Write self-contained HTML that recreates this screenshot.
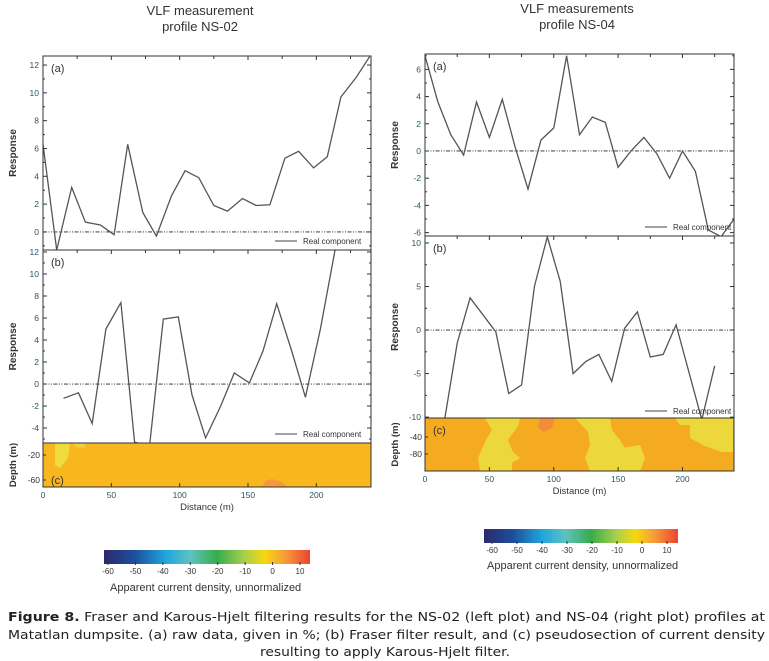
<!DOCTYPE html>
<html><head><meta charset="utf-8">
<style>
html,body{margin:0;padding:0;background:#fff;}
svg{display:block;font-family:"Liberation Sans",Arial,sans-serif;}
</style></head>
<body>
<svg id="fig" width="769" height="661" viewBox="0 0 769 661" xmlns="http://www.w3.org/2000/svg">
<defs>
<linearGradient id="cb" x1="0" x2="1" y1="0" y2="0">
<stop offset="0" stop-color="#2c2a6c"/><stop offset="0.15" stop-color="#1e4f9c"/><stop offset="0.3" stop-color="#1fa6dc"/><stop offset="0.42" stop-color="#5ec2c0"/><stop offset="0.55" stop-color="#38ac4c"/><stop offset="0.68" stop-color="#a6cf4e"/><stop offset="0.78" stop-color="#f7d80e"/><stop offset="0.88" stop-color="#f69a3c"/><stop offset="1" stop-color="#ec4430"/>
</linearGradient>
</defs>
<text x="200" y="15" font-size="13" text-anchor="middle" fill="#333">VLF measurement</text>
<text x="200" y="31" font-size="13" text-anchor="middle" fill="#333">profile NS-02</text>
<text x="577" y="13" font-size="13" text-anchor="middle" fill="#333">VLF measurements</text>
<text x="577" y="29" font-size="13" text-anchor="middle" fill="#333">profile NS-04</text>
<g id="plots"></g>
<!-- colorbars -->
<rect x="104" y="550" width="206" height="14" fill="url(#cb)"/>
<rect x="484" y="529" width="194" height="14" fill="url(#cb)"/>
<g id="cbticks"></g>
<text x="110" y="591" font-size="11" fill="#333">Apparent current density, unnormalized</text>
<text x="487" y="569" font-size="11" fill="#333">Apparent current density, unnormalized</text>
<g font-family="'DejaVu Sans',sans-serif" font-size="12" fill="#222">
<text x="8" y="621" textLength="757" lengthAdjust="spacingAndGlyphs"><tspan font-weight="bold">Figure 8.</tspan> Fraser and Karous-Hjelt filtering results for the NS-02 (left plot) and NS-04 (right plot) profiles at</text>
<text x="8" y="639" textLength="757" lengthAdjust="spacingAndGlyphs">Matatlan dumpsite. (a)  raw data, given in %; (b) Fraser filter result, and (c) pseudosection of current density</text>
<text x="385" y="656" text-anchor="middle" textLength="250" lengthAdjust="spacingAndGlyphs">resulting to apply Karous-Hjelt filter.</text>
</g>
</svg>
<script>
// ---- data ----
const leftADist = [0,10,21,31,42,52,62,73,83,94,104,114,125,135,146,156,166,177,187,198,208,218,229,239];
const leftAVals = [6.3,-1.3,3.2,0.7,0.5,-0.2,6.3,1.4,-0.3,2.6,4.4,3.9,1.9,1.5,2.4,1.9,1.95,5.3,5.8,4.6,5.4,9.7,11.1,12.6];
const leftBDist = [15,26,36,46,57,67,78,88,99,109,119,130,140,151,161,171,182,192,203,214];
const leftBVals = [-1.3,-0.8,-3.6,5.0,7.4,-5.3,-5.6,5.9,6.1,-1.0,-4.9,-2.0,1.0,0.1,3.0,7.3,3.0,-1.2,5.0,12.4];
const rightADist = [0,10,20,30,40,50,60,70,80,90,100,110,120,130,140,150,160,170,180,190,200,210,220,230,240];
const rightAVals = [7.0,3.6,1.2,-0.3,3.6,1.0,3.8,0.3,-2.8,0.8,1.7,7.0,1.2,2.5,2.1,-1.2,0,1.0,-0.2,-2.0,0.0,-1.5,-5.8,-6.3,-5.0];
const rightBDist = [15,25,35,55,65,75,85,95,105,115,125,135,145,155,165,175,185,195,215,225];
const rightBVals = [-10.5,-1.5,3.7,-0.2,-7.3,-6.3,5.0,10.7,5.6,-5.0,-3.6,-2.8,-5.9,0.2,2.1,-3.1,-2.8,0.6,-10.3,-4.1];
const leftATicks = [0,2,4,6,8,10,12];
const leftBTicks = [-4,-2,0,2,4,6,8,10,12];
const rightATicks = [-6,-4,-2,0,2,4,6];
const rightBTicks = [-10,-5,0,5,10];
const distTicks = [0,50,100,150,200];
const cbLabels = [-60,-50,-40,-30,-20,-10,0,10];

const NS='http://www.w3.org/2000/svg';
const G=document.getElementById('plots');
function mk(tag,attrs,parent){const e=document.createElementNS(NS,tag);for(const k in attrs)e.setAttribute(k,attrs[k]);(parent||G).appendChild(e);return e;}
function txt(s,attrs,parent){const e=mk('text',attrs,parent);e.textContent=s;return e;}
let clipId=0;
function panel(p){
  const xs=d=>p.x0+(d-0)/(240)*(p.x1-p.x0);
  const ys=v=>p.y1-(v-p.vmin)/(p.vmax-p.vmin)*(p.y1-p.y0);
  const g=mk('g',{});
  
  
  const cid='clip'+(clipId++);
  const cp=mk('clipPath',{id:cid},g);mk('rect',{x:p.x0,y:p.y0,width:p.x1-p.x0,height:p.y1-p.y0},cp);
  // zero line
  const z=mk('line',{x1:p.x0,x2:p.x1,y1:ys(0),y2:ys(0),stroke:'#222','stroke-width':0.9,'stroke-dasharray':'4,1.5,1,1.5,1,1.5'},g);
  
  
  // series
  const pts=p.dist.map((d,i)=>xs(d).toFixed(1)+','+ys(p.vals[i]).toFixed(1)).join(' ');
  const pl=mk('polyline',{points:pts,fill:'none',stroke:'#555','stroke-width':1.3,'clip-path':'url(#'+cid+')'},g);
  
  
  // frame
  mk('rect',{x:p.x0,y:p.y0,width:p.x1-p.x0,height:p.y1-p.y0,fill:'none',stroke:'#333','stroke-width':1},g);
  // y ticks
  p.ticks.forEach(t=>{
    const y=ys(t);
    mk('line',{x1:p.x0,x2:p.x0+4,y1:y,y2:y,stroke:'#333'},g);
    mk('line',{x1:p.x1,x2:p.x1-4,y1:y,y2:y,stroke:'#333'},g);
    const l=txt(String(t),{x:p.x0-4,y:y+3,'font-size':8.5,'text-anchor':'end',fill:'#2a5563'},g);
    
    
  });
  const step=p.ticks[1]-p.ticks[0];
  for(let v=p.ticks[0]-step/2; v<p.vmax; v+=step){ if(v>p.vmin){const y=ys(v);
    mk('line',{x1:p.x0,x2:p.x0+2,y1:y,y2:y,stroke:'#333'},g);mk('line',{x1:p.x1,x2:p.x1-2,y1:y,y2:y,stroke:'#333'},g);} }
  // x ticks top
  for(let d=0; d<=240; d+=25){const x=xs(d);
    mk('line',{x1:x,x2:x,y1:p.y0,y2:p.y0+(d%50==0?4:3),stroke:'#333'},g);}
  // label
  txt(p.label,{x:p.x0+8,y:p.y0+16,'font-size':11,fill:'#333'},g);
  // y title
  const yt=txt('Response',{x:0,y:0,'font-size':10,'font-weight':'bold','text-anchor':'middle',fill:'#333',transform:'translate('+p.ytx+','+((p.y0+p.y1)/2)+') rotate(-90)'},g);
  
  
  // legend
  const lg=mk('g',{},g);
  
  
  mk('line',{x1:p.lgx,x2:p.lgx+22,y1:p.lgy,y2:p.lgy,stroke:'#444','stroke-width':1},lg);
  txt('Real component',{x:p.lgx+28,y:p.lgy+3,'font-size':8,fill:'#333'},lg);
  return {xs,ys};
}
const LX0=43,LX1=371,RX0=425,RX1=734;
panel({name:'left-panel-a',x0:LX0,x1:LX1,y0:56,y1:250,vmin:-1.3,vmax:12.65,dist:leftADist,vals:leftAVals,ticks:leftATicks,label:'(a)',ytx:16,lgx:275,lgy:241});
panel({name:'left-panel-b',x0:LX0,x1:LX1,y0:250,y1:443,vmin:-5.36,vmax:12.18,dist:leftBDist,vals:leftBVals,ticks:leftBTicks,label:'(b)',ytx:16,lgx:275,lgy:434});
panel({name:'right-panel-a',x0:RX0,x1:RX1,y0:54,y1:236,vmin:-6.25,vmax:7.13,dist:rightADist,vals:rightAVals,ticks:rightATicks,label:'(a)',ytx:398,lgx:645,lgy:227});
panel({name:'right-panel-b',x0:RX0,x1:RX1,y0:236,y1:418,vmin:-10.1,vmax:10.8,dist:rightBDist,vals:rightBVals,ticks:rightBTicks,label:'(b)',ytx:398,lgx:645,lgy:411});

// heatmaps (c)
function heat(name,x0,x1,y0,y1,base,shapes,depthLabels,depthYs,tx,ly){
  const g=mk('g',{});
  
  
  mk('rect',{x:x0,y:y0,width:x1-x0,height:y1-y0,fill:base},g);
  shapes.forEach(s=>mk('polygon',{points:s[0],fill:s[1]},g));
  mk('rect',{x:x0,y:y0,width:x1-x0,height:y1-y0,fill:'none',stroke:'#333','stroke-width':1},g);
  txt('(c)',{x:x0+8,y:ly,'font-size':11,fill:'#333'},g);
  depthLabels.forEach((d,i)=>{mk('line',{x1:x0,x2:x0+3,y1:depthYs[i],y2:depthYs[i],stroke:'#333'},g);
    txt(String(d),{x:x0-3,y:depthYs[i]+3,'font-size':8.5,'text-anchor':'end',fill:'#333'},g);});
  const t=txt('Depth (m)',{x:0,y:0,'font-size':9.5,'font-weight':'bold','text-anchor':'middle',fill:'#333',transform:'translate('+tx+','+((y0+y1)/2)+') rotate(-90)'},g);
  
  
  // x axis
  distTicks.forEach(d=>{const x=x0+d/240*(x1-x0);
    mk('line',{x1:x,x2:x,y1:y1,y2:y1-4,stroke:'#333'},g);
    const l=txt(String(d),{x:x,y:y1+11,'font-size':8.5,'text-anchor':'middle',fill:'#2a5563'},g);
    
    
  });
  const xt=txt('Distance (m)',{x:(x0+x1)/2,y:y1+23,'font-size':9.5,'text-anchor':'middle',fill:'#333'},g);
  
  
}
heat('left-pseudosection',LX0,LX1,443,487,'#f8b71e',[
 ['55,443 70,443 68,458 60,468 55,465','#eedc3c'],
 ['72,443 86,443 84,448 76,447','#f0d040'],
 ['262,487 265,481 272,479 280,481 285,484 286,487','#f59a3c']
],[-20,-60],[455,480],16,484);
heat('right-pseudosection',RX0,RX1,418,471,'#f4ab20',[
 ['485,418 520,418 518,426 508,440 513,452 520,458 512,463 512,471 480,471 478,458 486,440 492,430','#ecd83a'],
 ['540,418 555,418 552,428 543,432 538,427','#f28c3a'],
 ['575,418 610,418 612,430 620,440 625,448 630,455 628,471 590,471 585,458 590,445 588,432','#ecd83a'],
 ['622,448 640,445 645,458 640,471 628,471','#ecd83a'],
 ['690,418 733,418 733,452 722,452 705,446 690,438','#ecd83a'],
 ['675,418 690,418 690,425 680,425','#ecd83a']
],[-40,-80],[437,454],398,434);

// colorbar ticks
const cbG=document.getElementById('cbticks');
function cbt(x0,x1,y,side){
  cbLabels.forEach((v,i)=>{const x=x0+(v+60)/70*(x1-x0);
    mk('line',{x1:x,x2:x,y1:y-3,y2:y,stroke:'#333'},cbG);
    const l=txt(String(v),{x:x,y:y+9,'font-size':8,'text-anchor':'middle',fill:'#333'},cbG);
    
    
  });
}
cbt(108,300,565,'left');
cbt(492,667,544,'right');
</script>
</body></html>
